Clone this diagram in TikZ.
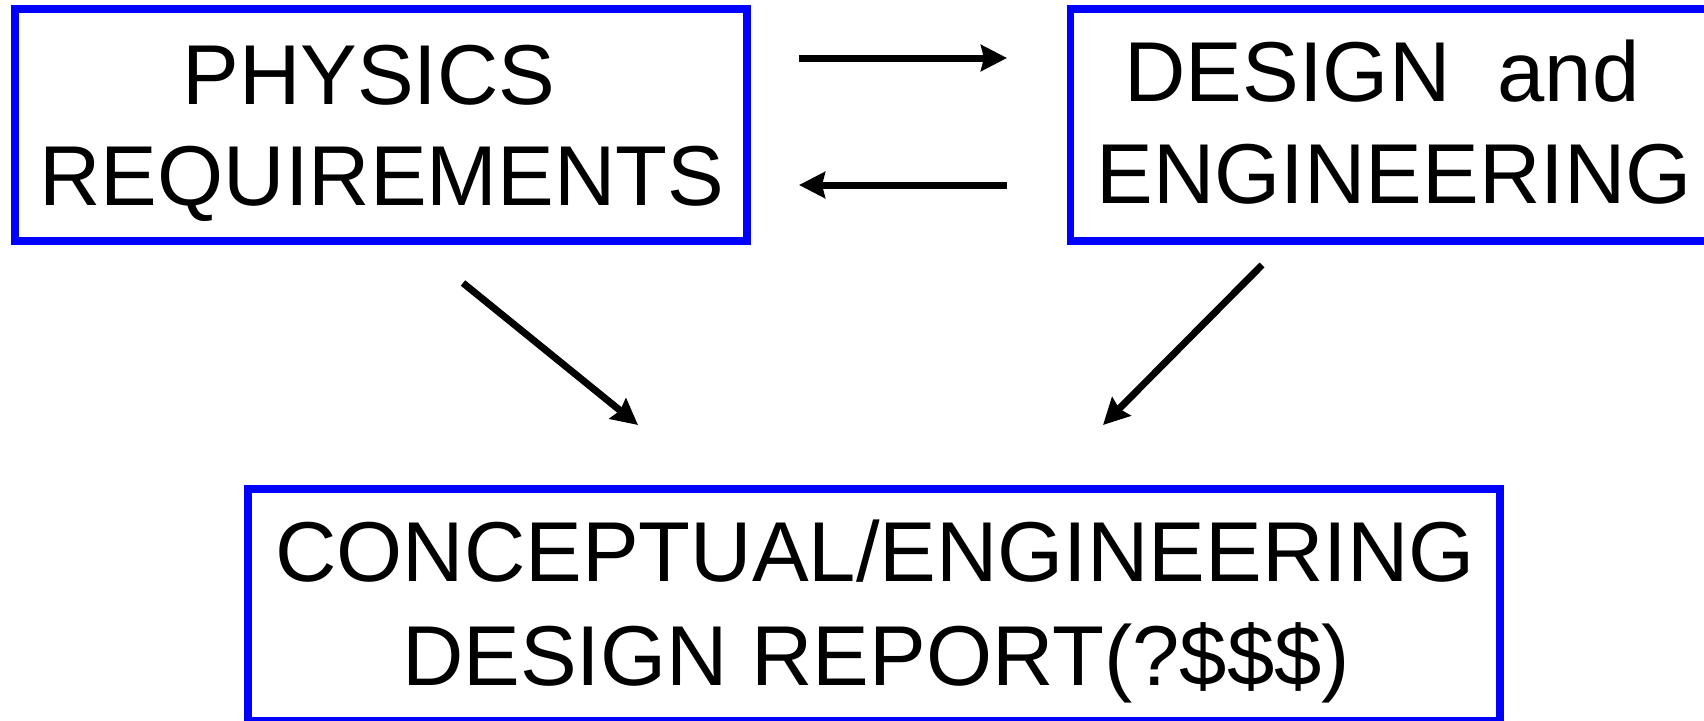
\documentclass[tikz,border=0pt]{standalone}
\usepackage{fontspec}
\setmainfont{Liberation Sans}
\usetikzlibrary{arrows.meta}
\definecolor{boxblue}{RGB}{0,0,255}
\tikzset{
  box/.style={draw=boxblue, line width=7.5pt, rectangle, inner sep=0pt},
  lbl/.style={inner sep=0pt, anchor=base, font=\fontsize{85}{104}\selectfont},
  conn/.style={line width=7pt, -{Stealth[length=26pt,width=26pt,inset=3pt]}}
}
\begin{document}
\begin{tikzpicture}[x=1pt,y=-1pt]
\useasboundingbox (0,0) rectangle (1704,720);
\clip (0,0) rectangle (1704,720);
% boxes
\node[box, minimum width=732pt, minimum height=232pt] (phys) at (381,125) {};
\node[box, minimum width=646pt, minimum height=232pt] (design) at (1393.5,125) {};
\node[box, minimum width=1252pt, minimum height=232pt] (report) at (874,605) {};
% texts
\node[lbl] (physA) at (369,104) {PHYSICS};
\node[lbl] (physB) at (382,205) {REQUIREMENTS};
\node[lbl] (designA) at (1382,101) {DESIGN\ \ and};
\node[lbl] (designB) at (1394,203) {ENGINEERING};
\node[lbl] (reportA) at (875,581) {CONCEPTUAL/ENGINEERING};
\node[lbl] (reportB) at (876,685) {DESIGN REPORT(?\$\$\$)};
% connector ends
\coordinate (a1s) at (799,58);
\coordinate (a1e) at (1007,58);
\coordinate (a2s) at (1007,185);
\coordinate (a2e) at (799,185);
\coordinate (a3s) at (463,283);
\coordinate (a3e) at (638,425);
\coordinate (a4s) at (1262,265);
\coordinate (a4e) at (1103,425);
% connectors
\draw[conn] (a1s) -- (a1e);
\draw[conn] (a2s) -- (a2e);
\draw[conn] (a3s) -- (a3e);
\draw[conn] (a4s) -- (a4e);
\end{tikzpicture}
\end{document}
